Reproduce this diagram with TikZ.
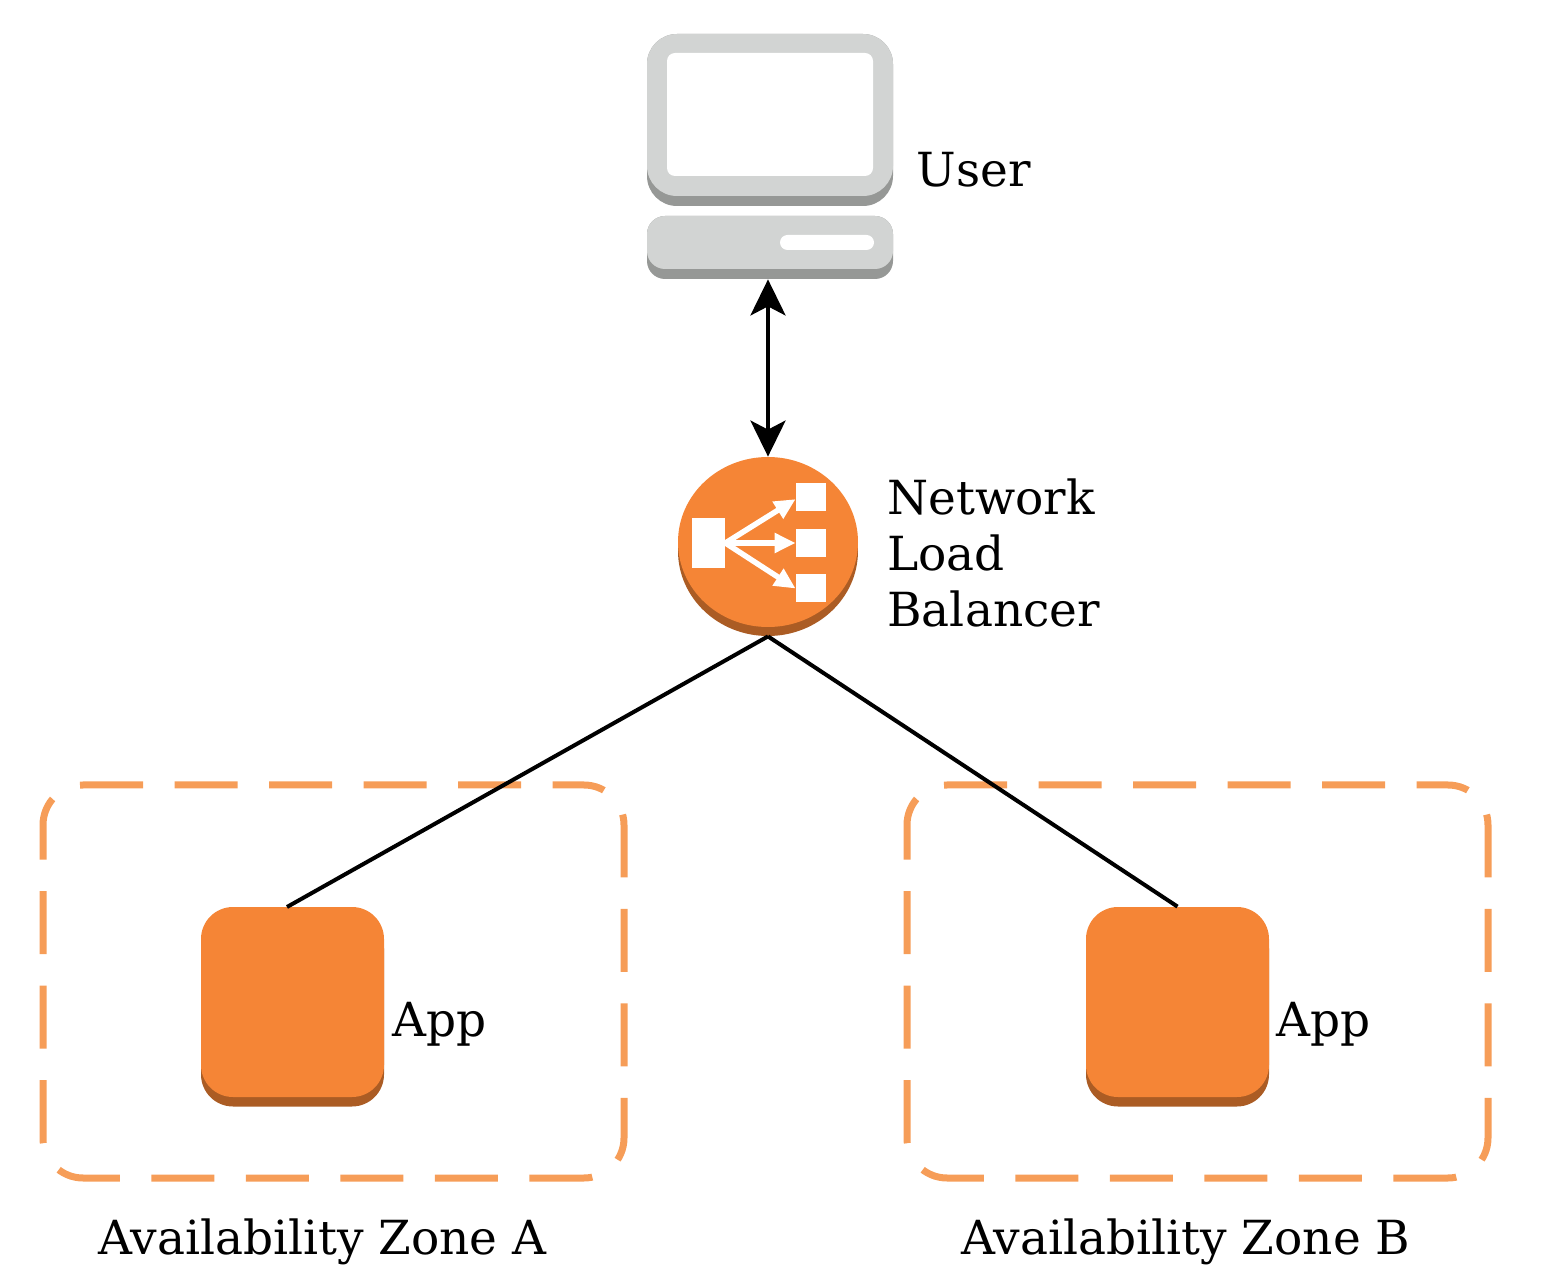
\documentclass[tikz,border=0pt]{standalone}
\usepackage{fontspec}
\setmainfont{DejaVu Serif}
\usetikzlibrary{arrows.meta,shapes.geometric}
\definecolor{awsorange}{HTML}{F58536}
\definecolor{awsdark}{HTML}{AB5C24}
\definecolor{zoneline}{HTML}{F69D58}
\definecolor{pcgray}{HTML}{D2D4D3}
\definecolor{pcdark}{HTML}{969896}
\tikzstyle{lbl} = [inner sep=0pt, font=\fontsize{23.5}{28}\selectfont, align=left]
\tikzstyle{zone} = [draw=zoneline, line width=3.5pt, rounded corners=20pt, minimum width=290.5pt, minimum height=196.5pt, inner sep=0pt, dash pattern=on 31.5pt off 15.75pt, dash phase=15.75pt]
\tikzstyle{app} = [fill=awsorange, rounded corners=16pt, minimum width=91.5pt, minimum height=95pt, inner sep=0pt]
\tikzstyle{appshade} = [fill=awsdark, rounded corners=16pt, minimum width=91.5pt, minimum height=95pt, inner sep=0pt]
\tikzstyle{pcbox} = [inner sep=0pt, minimum width=123pt]
\tikzstyle{wbox} = [fill=white, inner sep=0pt]
\tikzstyle{link} = [line width=2pt]
\tikzstyle{both} = [link, {Stealth[length=18pt,width=17.5pt,inset=4.5pt]}-{Stealth[length=18pt,width=17.5pt,inset=4.5pt]}]
\tikzstyle{iconarrow} = [white, line width=2.75pt, -{Triangle[length=10.5pt,width=9.5pt]}]

\begin{document}
\begin{tikzpicture}[x=0.5pt, y=-0.5pt]
		\useasboundingbox (0,0) rectangle (1544,1278);

		\node[pcbox, fill=pcdark, rounded corners=15pt, minimum height=86pt] (monitorshade) at (770,120) {};
		\node[pcbox, fill=pcgray, rounded corners=15pt, minimum height=81pt] (monitor) at (770,115) {};
		\node[wbox, rounded corners=4pt, minimum width=103pt, minimum height=61.5pt] (screen) at (770,114.5) {};
		\node[pcbox, fill=pcdark, rounded corners=9pt, minimum height=31.5pt] (baseshade) at (770,247.5) {};
		\node[pcbox, fill=pcgray, rounded corners=9pt, minimum height=26.5pt] (base) at (770,242.5) {};
		\node[wbox, rounded corners=3.75pt, minimum width=47pt, minimum height=7.5pt] (slot) at (827,242.5) {};
		\node[lbl, anchor=base west] (userlbl) at (916.5,187) {User};

		\node[ellipse, fill=awsdark, inner sep=0pt, minimum width=90pt, minimum height=85pt] (lbshade) at (768,551) {};
		\node[ellipse, fill=awsorange, inner sep=0pt, minimum width=90pt, minimum height=85pt] (lb) at (768,542) {};
		\node[wbox, minimum width=16.5pt, minimum height=25pt] (lbsrc) at (708.5,543) {};
		\node[wbox, minimum width=15pt, minimum height=14pt] (lbta) at (811,497) {};
		\node[wbox, minimum width=15pt, minimum height=14pt] (lbtb) at (811,543) {};
		\node[wbox, minimum width=15pt, minimum height=14pt] (lbtc) at (811,588.5) {};
		\draw[iconarrow] (lbsrc.east) -- (lbta.188);
		\draw[iconarrow] (lbsrc.east) -- (lbtb.west);
		\draw[iconarrow] (lbsrc.east) -- (lbtc.west);
		\node[lbl, anchor=west] (lblbl) at (887,553) {Network\\Load\\Balancer};

		\node[zone] (zonea) at (333.5,981.5) {};
		\node[zone] (zoneb) at (1197.5,981.5) {};
		\node[lbl, anchor=base] (zonealbl) at (322.5,1254) {Availability Zone A};
		\node[lbl, anchor=base] (zoneblbl) at (1186,1254) {Availability Zone B};

		\node[appshade] (appashade) at (292.5,1011.5) {};
		\node[app] (appa) at (292.5,1002) {};
		\node[lbl, anchor=base west] (appalbl) at (392,1036) {App};
		\node[appshade] (appbshade) at (1177.5,1011.5) {};
		\node[app] (appb) at (1177.5,1002) {};
		\node[lbl, anchor=base west] (appblbl) at (1276,1036) {App};

		\coordinate (appatop) at (287,907);

		\draw[both] (baseshade.south -| lb.north) -- (lb.north);
		\draw[link] (lbshade.south) -- (appatop);
		\draw[link] (lbshade.south) -- (appb.north);
\end{tikzpicture}
\end{document}
